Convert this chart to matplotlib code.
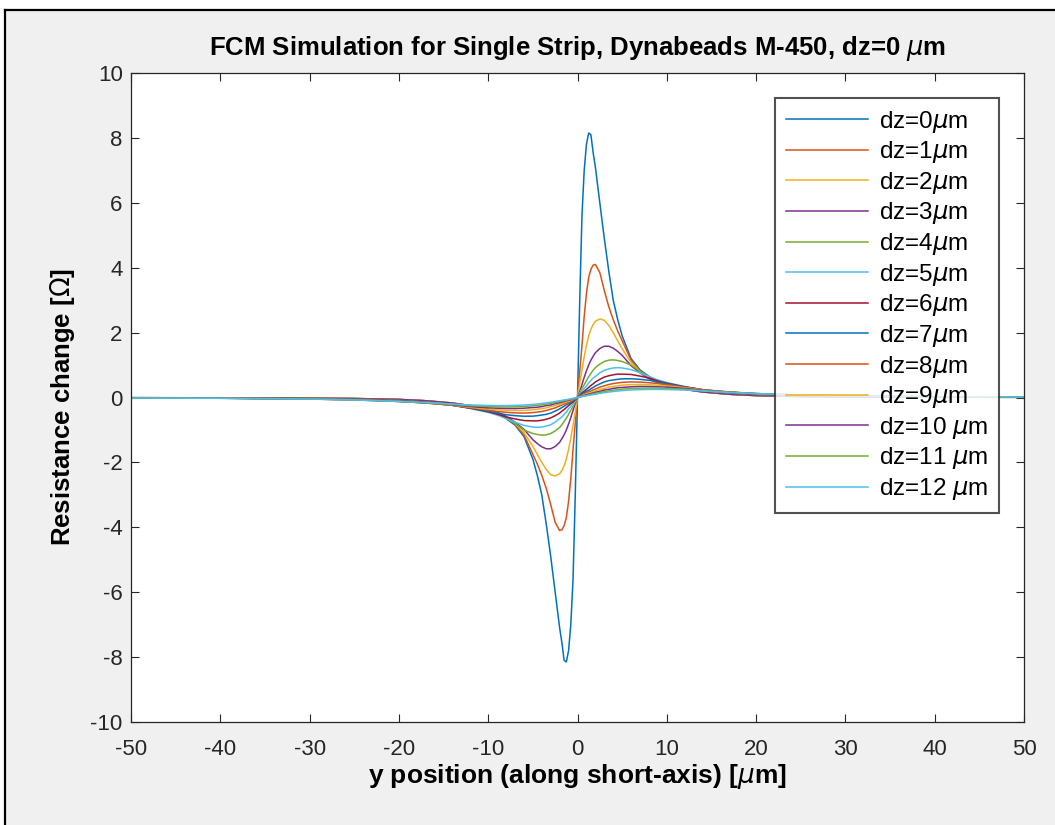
import matplotlib.pyplot as plt
import numpy as np
from matplotlib.lines import Line2D
from matplotlib.patches import Rectangle

# y positions (um), positive half; the response is odd in y, so the left half is mirrored
y_pos = [0, 0.25, 0.5, 0.75, 1, 1.25, 1.5, 1.75, 2, 2.5, 3, 3.5, 4, 4.5, 5,
         6, 7, 8, 9, 10, 12, 14, 17, 20, 25, 30, 40, 50]

# resistance change (ohm) for each dz
dz0 = [0, 3.0, 5.6, 7.0, 7.8, 8.15, 8.1, 7.55, 7.1, 6.0, 4.9, 3.9, 3.0, 2.4, 1.9,
       1.2, 0.85, 0.65, 0.5, 0.4, 0.26, 0.18, 0.1, 0.06, 0.03, 0.02, 0.01, 0.005]
dz1 = [0, 0.8, 1.6, 2.5, 3.2, 3.7, 3.95, 4.08, 4.1, 3.85, 3.3, 2.8, 2.4, 2.05, 1.75,
       1.15, 0.82, 0.62, 0.48, 0.38, 0.25, 0.17, 0.1, 0.06, 0.03, 0.02, 0.01, 0.005]
dz2 = [0, 0.45, 0.85, 1.25, 1.6, 1.9, 2.1, 2.25, 2.35, 2.42, 2.38, 2.22, 2.0, 1.75, 1.5,
       1.08, 0.8, 0.6, 0.46, 0.37, 0.25, 0.17, 0.1, 0.06, 0.03, 0.02, 0.01, 0.006]
dz3 = [0, 0.18, 0.4, 0.62, 0.82, 1.0, 1.15, 1.27, 1.38, 1.51, 1.58, 1.58, 1.52, 1.42, 1.3,
       0.98, 0.76, 0.58, 0.45, 0.36, 0.25, 0.17, 0.1, 0.06, 0.035, 0.022, 0.011, 0.007]
dz4 = [0, 0.14, 0.28, 0.39, 0.52, 0.64, 0.74, 0.84, 0.92, 1.03, 1.11, 1.15, 1.16, 1.14, 1.11,
       1.0, 0.8, 0.64, 0.53, 0.44, 0.31, 0.21, 0.14, 0.09, 0.052, 0.032, 0.016, 0.009]
dz5 = [0, 0.10, 0.19, 0.28, 0.35, 0.45, 0.52, 0.60, 0.65, 0.76, 0.84, 0.88, 0.91, 0.92, 0.91,
       0.86, 0.76, 0.64, 0.54, 0.46, 0.34, 0.24, 0.15, 0.10, 0.06, 0.039, 0.018, 0.011]
dz6 = [0, 0.07, 0.14, 0.19, 0.25, 0.31, 0.37, 0.42, 0.48, 0.56, 0.63, 0.67, 0.70, 0.72, 0.72,
       0.71, 0.66, 0.60, 0.51, 0.44, 0.33, 0.24, 0.15, 0.10, 0.058, 0.036, 0.018, 0.011]
dz7 = [0, 0.05, 0.10, 0.145, 0.19, 0.22, 0.27, 0.31, 0.35, 0.42, 0.48, 0.52, 0.54, 0.56, 0.575,
       0.577, 0.56, 0.53, 0.48, 0.42, 0.32, 0.24, 0.16, 0.11, 0.064, 0.04, 0.02, 0.012]
dz8 = [0, 0.036, 0.074, 0.106, 0.14, 0.17, 0.20, 0.235, 0.26, 0.32, 0.36, 0.40, 0.43, 0.45, 0.466,
       0.48, 0.475, 0.456, 0.43, 0.39, 0.31, 0.24, 0.17, 0.115, 0.067, 0.042, 0.021, 0.012]
dz9 = [0, 0.028, 0.056, 0.084, 0.11, 0.13, 0.15, 0.18, 0.20, 0.25, 0.28, 0.32, 0.34, 0.36, 0.38,
       0.396, 0.40, 0.394, 0.38, 0.356, 0.30, 0.236, 0.17, 0.118, 0.07, 0.045, 0.021, 0.012]
dz10 = [0, 0.022, 0.044, 0.065, 0.085, 0.10, 0.12, 0.14, 0.16, 0.19, 0.23, 0.25, 0.28, 0.30, 0.31,
        0.33, 0.34, 0.337, 0.33, 0.318, 0.28, 0.228, 0.167, 0.122, 0.072, 0.046, 0.023, 0.014]
dz11 = [0, 0.017, 0.035, 0.052, 0.067, 0.08, 0.097, 0.11, 0.126, 0.155, 0.18, 0.206, 0.226, 0.24, 0.258,
        0.276, 0.287, 0.29, 0.287, 0.28, 0.254, 0.215, 0.162, 0.122, 0.075, 0.048, 0.023, 0.014]
dz12 = [0, 0.014, 0.028, 0.041, 0.054, 0.065, 0.077, 0.088, 0.10, 0.125, 0.148, 0.168, 0.185, 0.20, 0.213,
        0.233, 0.243, 0.249, 0.25, 0.246, 0.23, 0.203, 0.155, 0.12, 0.075, 0.048, 0.025, 0.014]

curves = [dz0, dz1, dz2, dz3, dz4, dz5, dz6, dz7, dz8, dz9, dz10, dz11, dz12]
labels = ['dz=%d$\\mu$m' % i for i in range(10)] + ['dz=%d $\\mu$m' % i for i in range(10, 13)]

# MATLAB default colour order
colors = ['#0072BD', '#D95319', '#EDB120', '#7E2F8E', '#77AC30', '#4DBEEE', '#A2142F']

plt.rcParams['font.family'] = ['Liberation Sans', 'DejaVu Sans']
plt.rcParams['mathtext.fontset'] = 'dejavusans'
plt.rcParams['axes.unicode_minus'] = False

fig = plt.figure(figsize=(10.55, 8.25), dpi=100, facecolor='white')
# grey window area with a black frame on top and left (screenshot edge)
fig.patches.append(Rectangle((5 / 1055, 0), 1, 1 - 10 / 825, transform=fig.transFigure,
                             facecolor='#f0f0f0', edgecolor='none', zorder=-10))
fig.lines.append(Line2D([5 / 1055, 1], [1 - 10 / 825, 1 - 10 / 825], transform=fig.transFigure,
                        color='black', lw=1.6))
fig.lines.append(Line2D([5 / 1055, 5 / 1055], [0, 1 - 10 / 825], transform=fig.transFigure,
                        color='black', lw=1.6))

ax = fig.add_axes([131 / 1055, 1 - 722 / 825, (1024 - 131) / 1055, (722 - 73) / 825])

y = np.array(y_pos)
y_full = np.concatenate([-y[::-1], y[1:]])
for i, c in enumerate(curves):
    v = np.array(c)
    v_full = np.concatenate([-v[::-1], v[1:]])
    ax.plot(y_full, v_full, color=colors[i % len(colors)], lw=1.1, label=labels[i])

ax.set_xlim(-50, 50)
ax.set_ylim(-10, 10)
ax.set_xticks(np.arange(-50, 51, 10))
ax.set_yticks(np.arange(-10, 11, 2))
ax.tick_params(direction='in', top=True, right=True, length=6, width=0.8,
               labelsize=16, colors='#262626', pad=6)
ax.tick_params(axis='x', pad=12)
for s in ax.spines.values():
    s.set_color('#262626')
    s.set_linewidth(0.9)

ax.set_title('FCM Simulation for Single Strip, Dynabeads M-450, dz=0 $\\mu$m',
             fontsize=18.5, fontweight='bold', pad=13)
ax.set_xlabel('y position (along short-axis) [$\\mu$m]', fontsize=19, fontweight='bold',
              labelpad=2)
ax.set_ylabel('Resistance change [$\\Omega$]', fontsize=18.5, fontweight='bold', labelpad=8)
ax.yaxis.set_label_coords(-0.061, 0.485)

leg = ax.legend(loc='upper right', bbox_to_anchor=(0.9725, 0.962), fontsize=17.5,
                frameon=True, fancybox=False, handlelength=3.4, labelspacing=0.19,
                borderpad=0.45, handletextpad=0.45, borderaxespad=0)
leg.get_frame().set_edgecolor('#262626')
leg.get_frame().set_linewidth(1.5)

fig.savefig('out.png', dpi=100, facecolor=fig.get_facecolor())
